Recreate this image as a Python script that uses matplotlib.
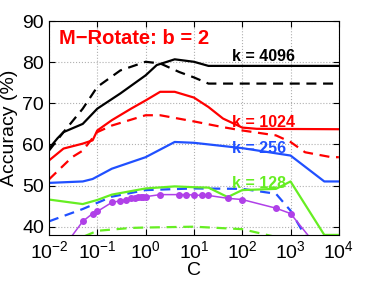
import numpy as np
import matplotlib
matplotlib.use('Agg')
import matplotlib.pyplot as plt

plt.rcParams['font.family'] = ['Liberation Sans', 'DejaVu Sans']
plt.rcParams['mathtext.fontset'] = 'custom'
plt.rcParams['mathtext.rm'] = 'Liberation Sans'
plt.rcParams['mathtext.it'] = 'Liberation Sans:italic'

# k = 4096
c_4096 = [0.01, 0.015, 0.02, 0.05, 0.1, 0.3, 1, 1.7, 4, 10, 20, 10000]
acc_4096 = [59.0, 61.5, 63.0, 65.0, 68.7, 72.4, 76.8, 79.3, 80.7, 80.1, 79.1, 79.1]
c_4096d = [0.01, 0.02, 0.05, 0.1, 0.3, 1, 2, 5, 10, 20, 10000]
acc_4096d = [58.5, 63.0, 68.7, 74.0, 78.0, 80.1, 79.7, 77.6, 76.3, 74.8, 74.8]

# k = 1024
c_1024 = [0.01, 0.02, 0.05, 0.08, 0.1, 0.2, 0.5, 1, 2, 4, 10, 20, 40, 100, 200, 10000]
acc_1024 = [56.1, 59.0, 60.2, 61.0, 63.4, 65.9, 68.7, 70.7, 72.8, 72.8, 71.4, 69.1, 66.3, 64.1, 63.8, 63.7]
c_1024d = [0.01, 0.03, 0.05, 0.1, 0.2, 1, 2, 10, 40, 100, 500, 1000, 2000, 7000, 10000]
acc_1024d = [51.5, 56.9, 58.5, 63.0, 64.6, 67.1, 67.1, 65.6, 64.2, 63.4, 62.2, 60.6, 58.1, 56.9, 56.9]

# k = 256
c_256 = [0.01, 0.05, 0.08, 0.2, 1, 4, 10, 100, 1000, 5000, 10000]
acc_256 = [50.65, 51.0, 51.6, 54.1, 56.9, 60.6, 60.4, 59.1, 57.3, 51.0, 51.0]
c_256d = [0.01, 0.05, 0.2, 1, 10, 100, 500, 1000, 2000, 5000]
acc_256d = [41.3, 44.3, 47.3, 48.9, 49.3, 49.2, 48.0, 43.9, 37.8, 30.0]

# k = 128
c_128 = [0.01, 0.05, 0.1, 0.2, 1, 4, 10, 20, 50, 100, 500, 1000, 5000, 10000]
acc_128 = [46.6, 45.5, 46.5, 47.8, 49.3, 49.8, 49.6, 49.5, 47.2, 48.9, 49.2, 51.0, 38.0, 38.0]
c_128d = [0.03, 0.05, 0.1, 0.5, 1, 10, 100, 500, 1000]
acc_128d = [35.0, 37.5, 39.0, 39.7, 39.8, 40.0, 39.4, 37.5, 35.0]

# marked curve
c_mark = [0.01, 0.02, 0.05, 0.08, 0.1, 0.2, 0.3, 0.4, 0.5, 0.6, 0.7, 0.8, 0.9, 1,
          2, 5, 7, 10, 15, 20, 50, 100, 500, 1000, 5000]
acc_mark = [30.0, 35.0, 41.3, 43.2, 43.7, 45.9, 46.3, 46.6, 46.9, 47.0, 47.15, 47.3, 47.3, 47.3,
            47.8, 47.8, 47.8, 47.7, 47.6, 47.6, 46.9, 46.6, 44.5, 43.2, 33.0]

BLUE = '#2050ff'
GREEN = '#66ee22'
PURPLE = '#b040e8'
dash = (0, (4.5, 3))

fig = plt.figure(figsize=(3.74, 2.81), dpi=100)
ax = fig.add_axes([0.131, 0.164, 0.775, 0.761])

ax.plot(c_4096, acc_4096, color='k', lw=1.6)
ax.plot(c_4096d, acc_4096d, color='k', lw=1.6, linestyle=dash)
ax.plot(c_1024, acc_1024, color='r', lw=1.6)
ax.plot(c_1024d, acc_1024d, color='r', lw=1.6, linestyle=dash)
ax.plot(c_256, acc_256, color=BLUE, lw=1.6)
ax.plot(c_256d, acc_256d, color=BLUE, lw=1.6, linestyle=dash)
ax.plot(c_128, acc_128, color=GREEN, lw=1.6)
ax.plot(c_128d, acc_128d, color=GREEN, lw=1.6, linestyle=dash)
ax.plot(c_mark, acc_mark, color=PURPLE, lw=1.1, marker='o', ms=4)

ax.set_xscale('log')
ax.set_xlim(1e-2, 1e4)
ax.set_ylim(38, 90)
ax.set_xticks([1e-2, 1e-1, 1e0, 1e1, 1e2, 1e3, 1e4])
ax.set_yticks([40, 50, 60, 70, 80, 90])
ax.grid(True, which='major', linestyle=':', color='#b0b0b0', lw=0.8)
ax.tick_params(which='both', direction='in', top=True, right=True, labelsize=14)
ax.tick_params(which='major', length=4)
ax.tick_params(which='minor', length=2)
for s in ax.spines.values():
    s.set_linewidth(0.8)

ax.set_xlabel('C', fontsize=14, labelpad=0)
ax.set_ylabel('Accuracy (%)', fontsize=14, labelpad=3)

ax.text(0.016, 85.8, 'M\u2212Rotate: b = 2', color='r', fontsize=14.5, fontweight='bold', va='center')
ax.text(60, 81.4, 'k = 4096', color='k', fontsize=11.5, fontweight='bold', va='center')
ax.text(60, 65.4, 'k = 1024', color='r', fontsize=11.5, fontweight='bold', va='center')
ax.text(60, 58.9, 'k = 256', color=BLUE, fontsize=11.5, fontweight='bold', va='center')
ax.text(60, 50.6, 'k = 128', color=GREEN, fontsize=11.5, fontweight='bold', va='center')

fig.savefig('out.png', dpi=100)
